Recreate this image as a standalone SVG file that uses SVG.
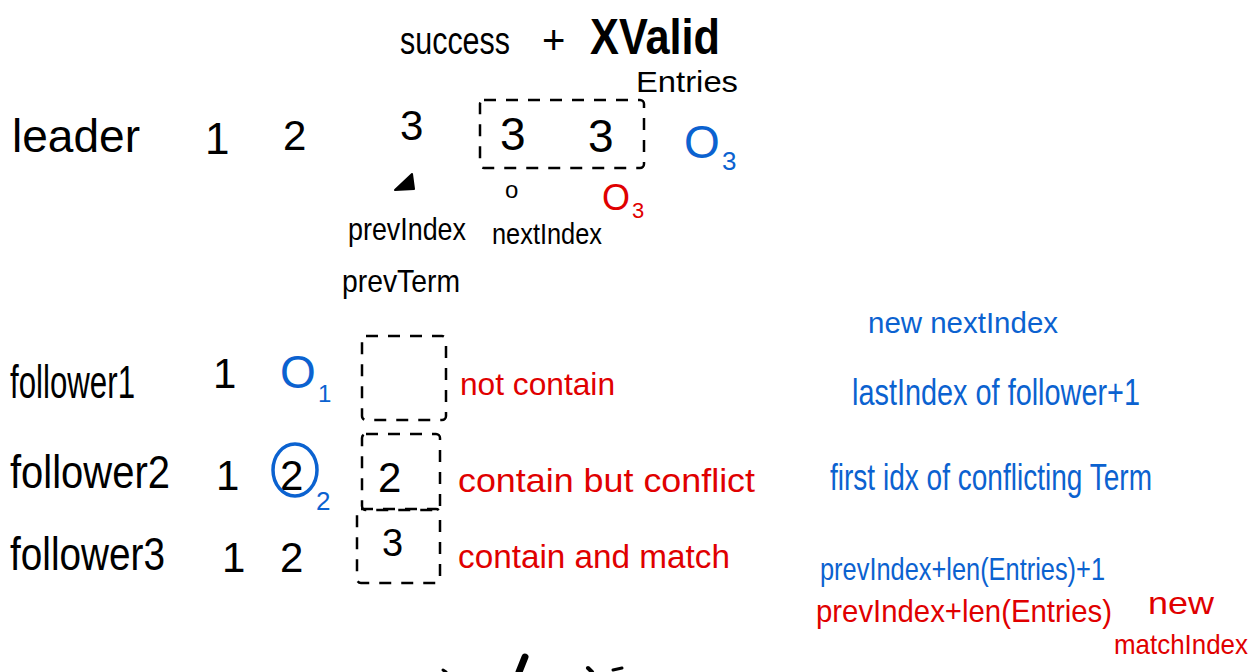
<svg xmlns="http://www.w3.org/2000/svg" width="1260" height="672" viewBox="0 0 1260 672">
<style>
text{font-family:"Liberation Sans","DejaVu Sans",sans-serif;}
.k{fill:#000;}
.b{fill:#0b62d0;}
.r{fill:#e00000;}
.box{fill:none;stroke:#000;stroke-width:2.5;stroke-dasharray:12 10;}
</style>
<rect width="1260" height="672" fill="#fff"/>
<g id="title">
<text class="k" x="400" y="54" font-size="38" textLength="110" lengthAdjust="spacingAndGlyphs">success</text>
<text class="k" x="542" y="54" font-size="40">+</text>
<text class="k" x="590" y="54" font-size="50" font-weight="bold" textLength="130" lengthAdjust="spacingAndGlyphs">XValid</text>
<text class="k" x="636" y="92" font-size="30" textLength="102" lengthAdjust="spacingAndGlyphs">Entries</text>
</g>
<g id="leader">
<text class="k" x="12" y="152" font-size="46" textLength="128" lengthAdjust="spacingAndGlyphs">leader</text>
<text class="k" x="205" y="154" font-size="44">1</text>
<text class="k" x="283" y="150" font-size="42">2</text>
<text class="k" x="400" y="140" font-size="42">3</text>
<rect class="box" x="480" y="100" width="164" height="68" rx="4"/>
<text class="k" x="500" y="150" font-size="46">3</text>
<text class="k" x="588" y="152" font-size="46">3</text>
<text class="b" x="684" y="158" font-size="46">O</text>
<text class="b" x="722" y="170" font-size="26">3</text>
<text class="k" x="505" y="198" font-size="24">o</text>
<text class="r" x="602" y="210" font-size="36">O</text>
<text class="r" x="632" y="218" font-size="22">3</text>
</g>
<g id="labels">
<text class="k" x="348" y="240" font-size="32" textLength="118" lengthAdjust="spacingAndGlyphs">prevIndex</text>
<text class="k" x="492" y="244" font-size="30" textLength="110" lengthAdjust="spacingAndGlyphs">nextIndex</text>
<text class="k" x="342" y="292" font-size="32" textLength="118" lengthAdjust="spacingAndGlyphs">prevTerm</text>
</g>
<g id="follower1">
<text class="k" x="10" y="398" font-size="46" textLength="125" lengthAdjust="spacingAndGlyphs">follower1</text>
<text class="k" x="213" y="388" font-size="42">1</text>
<text class="b" x="280" y="388" font-size="46">O</text>
<text class="b" x="318" y="402" font-size="24">1</text>
<rect class="box" x="362" y="336" width="84" height="84" rx="4"/>
<text class="r" x="460" y="395" font-size="32" textLength="155" lengthAdjust="spacingAndGlyphs">not contain</text>
</g>
<g id="follower2">
<text class="k" x="10" y="488" font-size="46" textLength="160" lengthAdjust="spacingAndGlyphs">follower2</text>
<text class="k" x="216" y="490" font-size="42">1</text>
<text class="k" x="280" y="490" font-size="42">2</text>
<ellipse cx="295" cy="470" rx="22" ry="26" fill="none" stroke="#0b62d0" stroke-width="3.5"/>
<text class="b" x="316" y="510" font-size="26">2</text>
<rect class="box" x="362" y="434" width="78" height="76" rx="4"/>
<text class="k" x="378" y="492" font-size="42">2</text>
<text class="r" x="458" y="492" font-size="34" textLength="297" lengthAdjust="spacingAndGlyphs">contain but conflict</text>
</g>
<g id="follower3">
<text class="k" x="10" y="570" font-size="46" textLength="155" lengthAdjust="spacingAndGlyphs">follower3</text>
<text class="k" x="222" y="572" font-size="42">1</text>
<text class="k" x="280" y="572" font-size="42">2</text>
<rect class="box" x="357" y="509" width="83" height="74" rx="4"/>
<text class="k" x="382" y="556" font-size="38">3</text>
<text class="r" x="458" y="568" font-size="34" textLength="272" lengthAdjust="spacingAndGlyphs">contain and match</text>
</g>
<g id="notes">
<text class="b" x="868" y="333" font-size="30" textLength="190" lengthAdjust="spacingAndGlyphs">new nextIndex</text>
<text class="b" x="852" y="405" font-size="36" textLength="288" lengthAdjust="spacingAndGlyphs">lastIndex of follower+1</text>
<text class="b" x="830" y="490" font-size="36" textLength="322" lengthAdjust="spacingAndGlyphs">first idx of conflicting Term</text>
<text class="b" x="820" y="580" font-size="32" textLength="285" lengthAdjust="spacingAndGlyphs">prevIndex+len(Entries)+1</text>
<text class="r" x="816" y="622" font-size="32" textLength="296" lengthAdjust="spacingAndGlyphs">prevIndex+len(Entries)</text>
<text class="r" x="1148" y="614" font-size="32" textLength="66" lengthAdjust="spacingAndGlyphs">new</text>
<text class="r" x="1114" y="654" font-size="28" textLength="134" lengthAdjust="spacingAndGlyphs">matchIndex</text>
</g>
<g id="connectors">
<path d="M395 190 L414 189 L412 174 Z" fill="#000" stroke="#000" stroke-width="2" stroke-linejoin="round"/>
</g>
<g id="bottom-marks" fill="none" stroke="#000" stroke-linecap="round">
<path d="M525 657 L519 672" stroke-width="7"/>
<path d="M443 670 L446 672" stroke-width="3"/>
<path d="M588 668 L592 672" stroke-width="4"/>
<path d="M613 670 L622 668" stroke-width="3"/>
</g>
</svg>
